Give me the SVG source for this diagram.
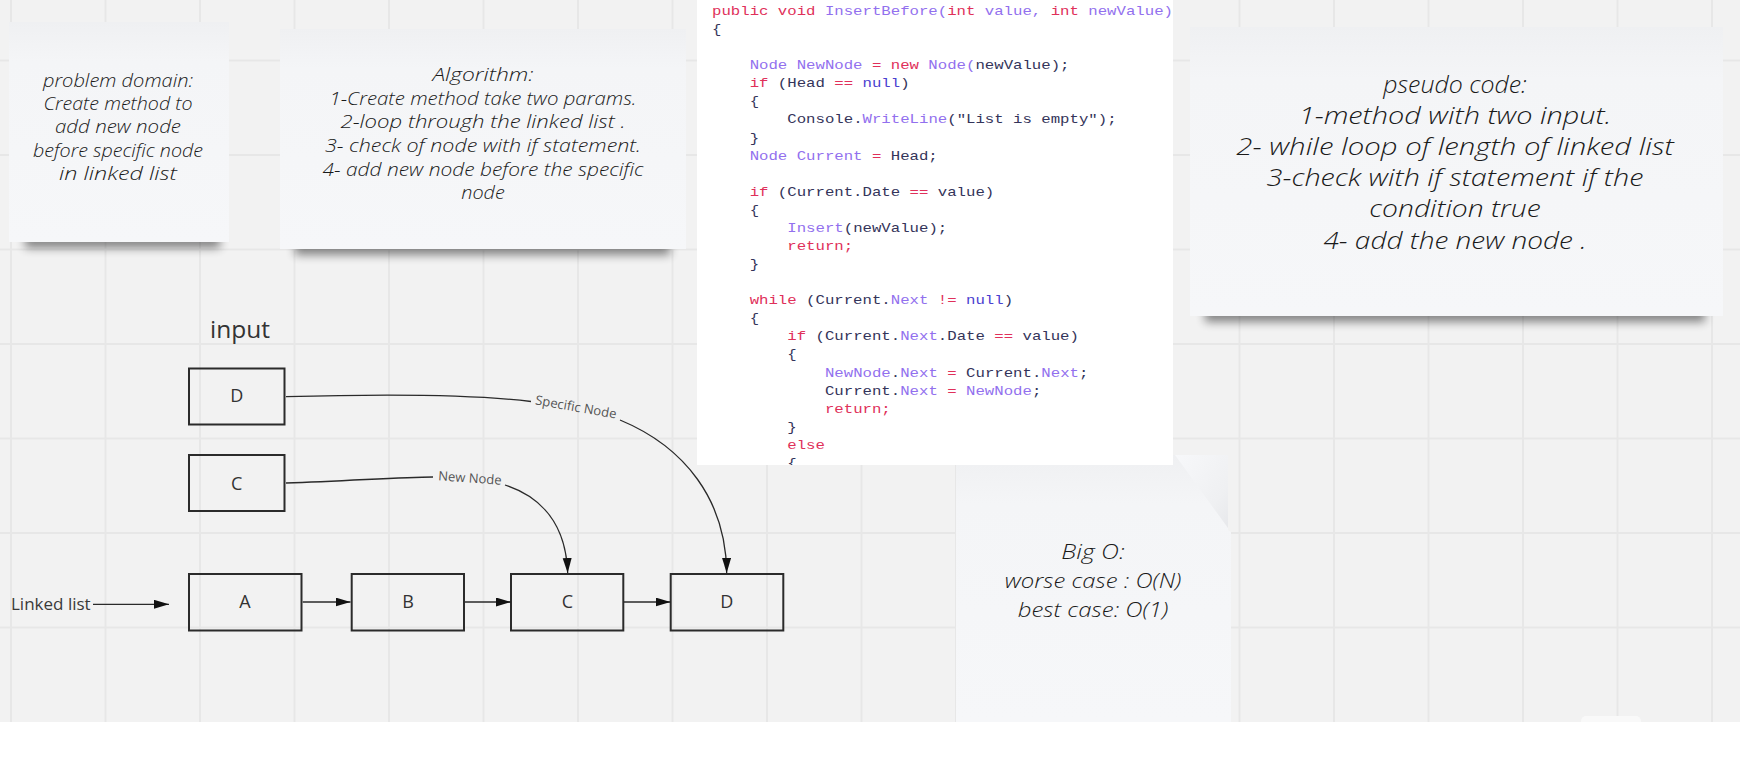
<svg xmlns="http://www.w3.org/2000/svg" width="1740" height="768" viewBox="0 0 1740 768">
<defs>
<style>
.grid{stroke:#e7e7e7;stroke-width:2;fill:none}
.note{fill:url(#noteGrad)}
.hand{font-family:"Open Sans","DejaVu Sans",sans-serif;font-style:italic;font-weight:300;fill:#1a1a1a;text-anchor:middle}
.box{fill:none;stroke:#2b2b2b;stroke-width:2}
.boxlbl{font-family:"Open Sans","Liberation Sans",sans-serif;font-size:18px;fill:#333;text-anchor:middle}
.lbl{font-family:"Open Sans","Liberation Sans",sans-serif;font-size:13px;fill:#555}
.conn{fill:none;stroke:#2a2a2a;stroke-width:1.3}
.code{font-family:"Liberation Mono","DejaVu Sans Mono",monospace;font-size:12.5px;white-space:pre;fill:#34345a}
.k{fill:#e0305a}
.t{fill:#9270ee}
.n{fill:#4a40d0}
</style>
<linearGradient id="noteGrad" x1="0" y1="0" x2="0" y2="1">
<stop offset="0" stop-color="#eff0f2"/>
<stop offset="0.18" stop-color="#f4f5f7"/>
<stop offset="1" stop-color="#f6f7f9"/>
</linearGradient>
<linearGradient id="peel" x1="0" y1="0" x2="1" y2="1">
<stop offset="0" stop-color="#f7f8fa"/>
<stop offset="0.7" stop-color="#eff0f2"/>
<stop offset="1" stop-color="#e7e8eb"/>
</linearGradient>
<filter id="blur" x="-20%" y="-200%" width="140%" height="500%">
<feGaussianBlur stdDeviation="5"/>
</filter>
<marker id="arr" markerUnits="userSpaceOnUse" markerWidth="16" markerHeight="10" refX="15" refY="4.5" orient="auto">
<path d="M0,0 L15,4.5 L0,9 Z" fill="#111"/>
</marker>
<clipPath id="codeClip"><rect x="697" y="0" width="476" height="465"/></clipPath>
</defs>

<rect x="0" y="0" width="1740" height="768" fill="#f2f2f2"/>
<path class="grid" d="M11,0V722M105.5,0V722M200,0V722M294.5,0V722M389,0V722M483.5,0V722M578,0V722M672.5,0V722M767,0V722M861.5,0V722M956,0V722M1050.5,0V722M1145,0V722M1239.5,0V722M1334,0V722M1428.5,0V722M1523,0V722M1617.5,0V722M1712,0V722M0,60.5H1740M0,155H1740M0,249.5H1740M0,344H1740M0,438.5H1740M0,533H1740M0,627.5H1740"/>
<rect x="0" y="722" width="1740" height="46" fill="#ffffff"/>
<rect x="1581" y="716" width="60" height="14" rx="5" fill="#f9f9f9"/>
<rect x="1581" y="722" width="60" height="46" fill="#ffffff"/>

<g id="note-problem">
<rect x="25" y="234" width="195" height="14" fill="#000" opacity="0.45" filter="url(#blur)"/>
<rect class="note" x="9" y="22" width="220" height="220"/>
<g class="hand" font-size="18">
<text x="118" y="87" textLength="150" lengthAdjust="spacingAndGlyphs">problem domain:</text>
<text x="118" y="110" textLength="149" lengthAdjust="spacingAndGlyphs">Create method to</text>
<text x="118" y="133" textLength="126" lengthAdjust="spacingAndGlyphs">add new node</text>
<text x="118" y="157" textLength="170" lengthAdjust="spacingAndGlyphs">before specific node</text>
<text x="118" y="180" textLength="118" lengthAdjust="spacingAndGlyphs">in linked list</text>
</g>
</g>

<g id="note-algorithm">
<rect x="295" y="241" width="375" height="14" fill="#000" opacity="0.45" filter="url(#blur)"/>
<rect class="note" x="280" y="29" width="406" height="220"/>
<g class="hand" font-size="18">
<text x="483" y="81" textLength="101" lengthAdjust="spacingAndGlyphs">Algorithm:</text>
<text x="483" y="104.5" textLength="307" lengthAdjust="spacingAndGlyphs">1-Create method take two params.</text>
<text x="483" y="128" textLength="285" lengthAdjust="spacingAndGlyphs">2-loop through the linked list .</text>
<text x="483" y="152" textLength="316" lengthAdjust="spacingAndGlyphs">3- check of node with if statement.</text>
<text x="483" y="175.5" textLength="321" lengthAdjust="spacingAndGlyphs">4- add new node before the specific</text>
<text x="483" y="198.5" textLength="43.5" lengthAdjust="spacingAndGlyphs">node</text>
</g>
</g>

<g id="note-pseudo">
<rect x="1205" y="306" width="500" height="16" fill="#000" opacity="0.45" filter="url(#blur)"/>
<rect class="note" x="1190" y="27" width="533" height="289"/>
<g class="hand" font-size="23">
<text x="1455" y="93" textLength="143.6" lengthAdjust="spacingAndGlyphs">pseudo code:</text>
<text x="1455" y="124" textLength="312.5" lengthAdjust="spacingAndGlyphs">1-method with two input.</text>
<text x="1455" y="155" textLength="437.5" lengthAdjust="spacingAndGlyphs">2- while loop of length of linked list</text>
<text x="1455" y="186" textLength="376.8" lengthAdjust="spacingAndGlyphs">3-check with if statement if the</text>
<text x="1455" y="217" textLength="171.4" lengthAdjust="spacingAndGlyphs">condition true</text>
<text x="1455" y="249" textLength="263.2" lengthAdjust="spacingAndGlyphs">4- add the new node .</text>
</g>
</g>

<g id="note-bigo">
<path class="note" d="M956,455 H1228 V530 L1231,532 V722 H956 Z"/>
<path d="M1175,455 H1228 V528 Z" fill="url(#peel)"/>
<g class="hand" font-size="20">
<text x="1093" y="559" textLength="63.3" lengthAdjust="spacingAndGlyphs">Big O:</text>
<text x="1093" y="588" textLength="176.7" lengthAdjust="spacingAndGlyphs">worse case : O(N)</text>
<text x="1093" y="617" textLength="150.6" lengthAdjust="spacingAndGlyphs">best case: O(1)</text>
</g>
</g>

<g id="code-panel">
<rect x="697" y="0" width="476" height="465" fill="#ffffff"/>
<g clip-path="url(#codeClip)">
<g transform="translate(712,0) scale(1.255,1)">
<text class="code" x="0" y="15.1"><tspan class="k">public void </tspan><tspan class="t">InsertBefore(</tspan><tspan class="k">int </tspan><tspan class="t">value, </tspan><tspan class="k">int </tspan><tspan class="t">newValue)</tspan></text>
<text class="code" x="0" y="33.2">{</text>
<text class="code" x="30" y="69.3"><tspan class="t">Node NewNode </tspan><tspan class="k">= new </tspan><tspan class="t">Node(</tspan>newValue);</text>
<text class="code" x="30" y="87.4"><tspan class="k">if </tspan>(Head <tspan class="k">== </tspan><tspan class="n">null</tspan>)</text>
<text class="code" x="30" y="105.5">{</text>
<text class="code" x="60" y="123.5">Console.<tspan class="t">WriteLine</tspan>("List is empty");</text>
<text class="code" x="30" y="141.6">}</text>
<text class="code" x="30" y="159.7"><tspan class="t">Node Current </tspan><tspan class="k">= </tspan>Head;</text>
<text class="code" x="30" y="195.8"><tspan class="k">if </tspan>(Current.Date <tspan class="k">== </tspan>value)</text>
<text class="code" x="30" y="213.9">{</text>
<text class="code" x="60" y="232"><tspan class="t">Insert</tspan>(newValue);</text>
<text class="code" x="60" y="250"><tspan class="k">return;</tspan></text>
<text class="code" x="30" y="268.1">}</text>
<text class="code" x="30" y="304.3"><tspan class="k">while </tspan>(Current.<tspan class="t">Next </tspan><tspan class="k">!= </tspan><tspan class="n">null</tspan>)</text>
<text class="code" x="30" y="322.4">{</text>
<text class="code" x="60" y="340.4"><tspan class="k">if </tspan>(Current.<tspan class="t">Next</tspan>.Date <tspan class="k">== </tspan>value)</text>
<text class="code" x="60" y="358.5">{</text>
<text class="code" x="90" y="376.6"><tspan class="t">NewNode</tspan>.<tspan class="t">Next </tspan><tspan class="k">= </tspan>Current.<tspan class="t">Next</tspan>;</text>
<text class="code" x="90" y="394.7">Current.<tspan class="t">Next </tspan><tspan class="k">= </tspan><tspan class="t">NewNode</tspan>;</text>
<text class="code" x="90" y="412.8"><tspan class="k">return;</tspan></text>
<text class="code" x="60" y="430.8">}</text>
<text class="code" x="60" y="448.9"><tspan class="k">else</tspan></text>
<text class="code" x="60" y="467">{</text>
</g>
</g>
</g>

<text id="input-title" x="210" y="338" font-family="'Open Sans','Liberation Sans',sans-serif" font-size="24.5" fill="#333">input</text>

<g id="node-inD"><rect class="box" x="189" y="368.5" width="95.5" height="56"/><text class="boxlbl" x="236.7" y="401.5">D</text></g>
<g id="node-inC"><rect class="box" x="189" y="455" width="95.5" height="56"/><text class="boxlbl" x="236.7" y="489.5">C</text></g>
<g id="node-A"><rect class="box" x="189" y="574" width="112.5" height="56.5"/><text class="boxlbl" x="245" y="608">A</text></g>
<g id="node-B"><rect class="box" x="351.7" y="574" width="112.3" height="56.5"/><text class="boxlbl" x="408" y="608">B</text></g>
<g id="node-C"><rect class="box" x="511" y="574" width="112.3" height="56.5"/><text class="boxlbl" x="567.5" y="608">C</text></g>
<g id="node-D"><rect class="box" x="670.7" y="574" width="112.6" height="56.5"/><text class="boxlbl" x="726.7" y="608">D</text></g>

<g id="linked-list-label"><text x="11" y="609.5" font-family="'Open Sans','Liberation Sans',sans-serif" font-size="17" fill="#3a3a3a">Linked list</text></g>

<g id="connectors">
<path class="conn" d="M93,604.3 H169" marker-end="url(#arr)"/>
<path class="conn" d="M302.7,602 H350.5" marker-end="url(#arr)"/>
<path class="conn" d="M465,602 H511" marker-end="url(#arr)"/>
<path class="conn" d="M623.5,602 H670.5" marker-end="url(#arr)"/>
<path class="conn" d="M286,396.7 C380,394 470,394 531,401.5"/>
<path class="conn" d="M620,420 C685,447 726,500 726.7,573" marker-end="url(#arr)"/>
<text class="lbl" x="576" y="411.5" text-anchor="middle" transform="rotate(10,576,407)">Specific Node</text>
<path class="conn" d="M286,483 C350,481 400,477 433,477"/>
<path class="conn" d="M505,485 C542,497 566,525 567.7,573" marker-end="url(#arr)"/>
<text class="lbl" x="470" y="482.5" text-anchor="middle" transform="rotate(4,470,478)">New Node</text>
</g>
</svg>
